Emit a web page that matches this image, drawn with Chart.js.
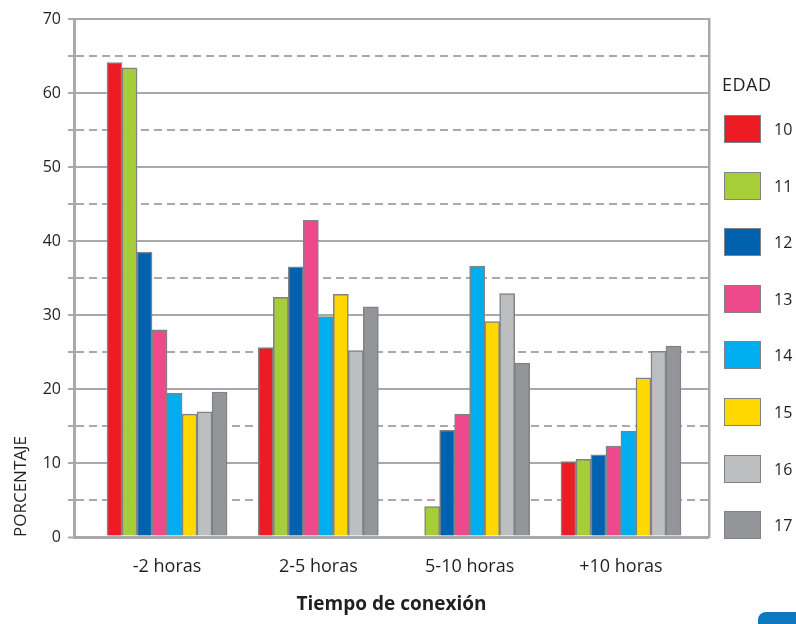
<!DOCTYPE html>
<html>
<head>
<meta charset="utf-8">
<script src="https://cdn.jsdelivr.net/npm/chart.js@4"></script>
<style>
html,body{margin:0;padding:0;background:#fff;}
#wrap{position:relative;width:796px;height:624px;overflow:hidden;font-family:"Open Sans","Noto Sans",sans-serif;color:#231f20;}
canvas{position:absolute;left:0;top:0;}
#legTitle{position:absolute;left:722px;top:72px;font-size:18px;line-height:24px;letter-spacing:0.5px;}
.legBox{position:absolute;left:724px;width:37px;height:28px;box-sizing:border-box;border:1.5px solid #808285;}
.legText{position:absolute;left:774px;font-size:16px;line-height:20px;}
#tab{position:absolute;left:758px;top:612px;width:60px;height:30px;border-radius:8px;background:#0b78c0;}
</style>
</head>
<body>
<div id="wrap">
<canvas id="c" width="796" height="624"></canvas>
<div id="legTitle">EDAD</div>
<div id="legend"></div>
<div id="tab"></div>
</div>
<script>
// ---- data ----
const categories = ['-2 horas', '2-5 horas', '5-10 horas', '+10 horas'];
const ages = ['10', '11', '12', '13', '14', '15', '16', '17'];
const age10 = [64.1, 25.6, null, 10.2];
const age11 = [63.4, 32.4, 4.1, 10.5];
const age12 = [38.5, 36.5, 14.4, 11.1];
const age13 = [28.0, 42.8, 16.6, 12.3];
const age14 = [19.4, 29.8, 36.6, 14.3];
const age15 = [16.6, 32.8, 29.1, 21.5];
const age16 = [16.9, 25.2, 32.9, 25.1];
const age17 = [19.6, 31.1, 23.5, 25.8];
const yTickLabels = ['0', '10', '20', '30', '40', '50', '60', '70'];

// ---- styles ----
const seriesValues = [age10, age11, age12, age13, age14, age15, age16, age17];
const colors = ['#ED1C24', '#A6CE39', '#0062AE', '#EE4A8B', '#00AEEF', '#FFD800', '#BCBEC0', '#939598'];
const gridColor = '#a7a9ac';
const textColor = '#231f20';
const fontFam = '"Open Sans", "Noto Sans", sans-serif';

const datasets = seriesValues.map((vals, k) => ({
  label: ages[k],
  data: vals.map((v, i) => ({ x: i, y: v })),
  backgroundColor: colors[k],
  borderColor: '#808285',
  borderWidth: 1.5,
  barThickness: 15,
  borderSkipped: 'bottom'
}));

const chart = new Chart(document.getElementById('c'), {
  type: 'bar',
  data: { datasets },
  options: {
    responsive: false,
    animation: false,
    events: [],
    layout: { padding: { top: 19, right: 87, left: 0, bottom: 0 } },
    plugins: { legend: { display: false }, tooltip: { enabled: false } },
    scales: {
      x: {
        type: 'linear',
        min: -0.615,
        max: 3.582,
        offset: false,
        grid: { display: false, drawTicks: false, offset: false },
        border: { display: false },
        ticks: {
          stepSize: 1,
          includeBounds: false,
          autoSkip: false,
          maxRotation: 0,
          padding: 19,
          color: textColor,
          font: { family: fontFam, size: 18 },
          callback: (v) => (Number.isInteger(v) && categories[v] !== undefined) ? categories[v] : ''
        },
        title: {
          display: true,
          text: 'Tiempo de conexión',
          color: textColor,
          font: { family: fontFam, size: 19, weight: 'bold' },
          padding: { top: 0, bottom: 8 }
        },
        afterFit: (s) => { s.height = 87; }
      },
      y: {
        min: 0,
        max: 70,
        position: 'left',
        grid: {
          color: gridColor,
          lineWidth: (ctx) => (ctx.tick && ctx.tick.value === 0) ? 3 : 2,
          tickLength: 6,
          tickWidth: 2,
          tickColor: gridColor
        },
        border: {
          display: true,
          color: gridColor,
          width: 3,
          dash: (ctx) => (ctx.tick && ctx.tick.value % 10 === 5) ? [8, 5] : []
        },
        ticks: {
          stepSize: 5,
          padding: 7,
          color: textColor,
          font: { family: fontFam, size: 16 },
          callback: (v) => (v % 10 === 0) ? yTickLabels[v / 10] : ''
        },
        title: {
          display: true,
          text: 'PORCENTAJE',
          align: 'start',
          color: textColor,
          font: { family: fontFam, size: 17 },
          padding: { top: 11, bottom: 0 }
        },
        afterFit: (s) => { s.width = 74; }
      },
      yR: {
        min: 0,
        max: 70,
        position: 'right',
        grid: { display: false, drawTicks: false },
        border: { display: true, color: gridColor, width: 2.5 },
        ticks: { display: false },
        afterFit: (s) => { s.width = 0; }
      }
    }
  }
});

// HTML legend built from the chart's datasets
const leg = document.getElementById('legend');
chart.data.datasets.forEach((ds, i) => {
  const top = 115 + i * 56.6;
  const b = document.createElement('div');
  b.className = 'legBox';
  b.style.top = top + 'px';
  b.style.background = ds.backgroundColor;
  leg.appendChild(b);
  const t = document.createElement('div');
  t.className = 'legText';
  t.style.top = (top + 4) + 'px';
  t.textContent = ds.label;
  leg.appendChild(t);
});
</script>
</body>
</html>
